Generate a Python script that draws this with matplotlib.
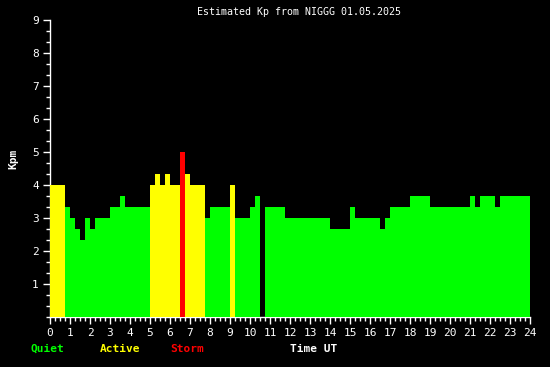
import numpy as np
import matplotlib
matplotlib.use("Agg")
import matplotlib.pyplot as plt
from matplotlib.ticker import MultipleLocator, FixedLocator

# 15-minute Kp estimates (thirds), NaN = no data
kp = [
    4.0, 4.0, 4.0, 3.33, 3.0, 2.67, 2.33, 3.0, 2.67, 3.0, 3.0, 3.0,
    3.33, 3.33, 3.67, 3.33, 3.33, 3.33, 3.33, 3.33, 4.0, 4.33, 4.0, 4.33,
    4.0, 4.0, 5.0, 4.33, 4.0, 4.0, 4.0, 3.0, 3.33, 3.33, 3.33, 3.33,
    4.0, 3.0, 3.0, 3.0, 3.33, 3.67, np.nan, 3.33, 3.33, 3.33, 3.33, 3.0,
    3.0, 3.0, 3.0, 3.0, 3.0, 3.0, 3.0, 3.0, 2.67, 2.67, 2.67, 2.67,
    3.33, 3.0, 3.0, 3.0, 3.0, 3.0, 2.67, 3.0, 3.33, 3.33, 3.33, 3.33,
    3.67, 3.67, 3.67, 3.67, 3.33, 3.33, 3.33, 3.33, 3.33, 3.33, 3.33, 3.33,
    3.67, 3.33, 3.67, 3.67, 3.67, 3.33, 3.67, 3.67, 3.67, 3.67, 3.67, 3.67,
]
hours = [i * 0.25 for i in range(len(kp))]
x_labels = [str(h) for h in range(25)]
y_labels = [str(k) for k in range(1, 10)]

def color_for(v):
    if v >= 5:
        return "#ff0000"
    if v >= 4:
        return "#ffff00"
    return "#00ff00"

colors = [color_for(v) if not np.isnan(v) else "#000000" for v in kp]
vals = [0 if np.isnan(v) else v for v in kp]

fig = plt.figure(figsize=(5.5, 3.67), dpi=100, facecolor="black")
ax = fig.add_axes([50/550, 50/367, 480/550, 297/367])
ax.set_facecolor("black")
ax.bar(hours, vals, width=0.25, align="edge", color=colors, linewidth=0, zorder=3)

ax.set_xlim(0, 24)
ax.set_ylim(0, 9)
for s in ["top", "right"]:
    ax.spines[s].set_visible(False)
for s in ["left", "bottom"]:
    ax.spines[s].set_color("white")
    ax.spines[s].set_linewidth(1)
ax.spines["bottom"].set_zorder(1)

mono = "DejaVu Sans Mono"
ax.xaxis.set_major_locator(FixedLocator(range(25)))
ax.set_xticklabels(x_labels, fontsize=8, color="white", family=mono)
ax.xaxis.set_minor_locator(MultipleLocator(0.25))
ax.yaxis.set_major_locator(FixedLocator(range(1, 10)))
ax.set_yticklabels(y_labels, fontsize=8, color="white", family=mono)
ax.yaxis.set_minor_locator(MultipleLocator(1/3))
ax.tick_params(which="major", length=5, width=1, color="white", pad=3)
ax.tick_params(which="minor", length=3, width=1, color="white")

fig.text(299/550, 1 - 12/367, "Estimated Kp from NIGGG 01.05.2025", ha="center", va="center",
         color="white", fontsize=7.2, family=mono)
fig.text(13/550, 1 - 159/367, "Kpm", rotation=90, ha="center", va="center",
         color="white", fontsize=8, family=mono, fontweight="bold")
fig.text(47/550, 1 - 349/367, "Quiet", ha="center", va="center", color="#00ff00",
         fontsize=8, family=mono, fontweight="bold")
fig.text(120/550, 1 - 349/367, "Active", ha="center", va="center", color="#ffff00",
         fontsize=8, family=mono, fontweight="bold")
fig.text(187/550, 1 - 349/367, "Storm", ha="center", va="center", color="#ff0000",
         fontsize=8, family=mono, fontweight="bold")
fig.text(314/550, 1 - 349/367, "Time UT", ha="center", va="center", color="white",
         fontsize=8, family=mono, fontweight="bold")

fig.savefig("out.png", dpi=100, facecolor="black")
